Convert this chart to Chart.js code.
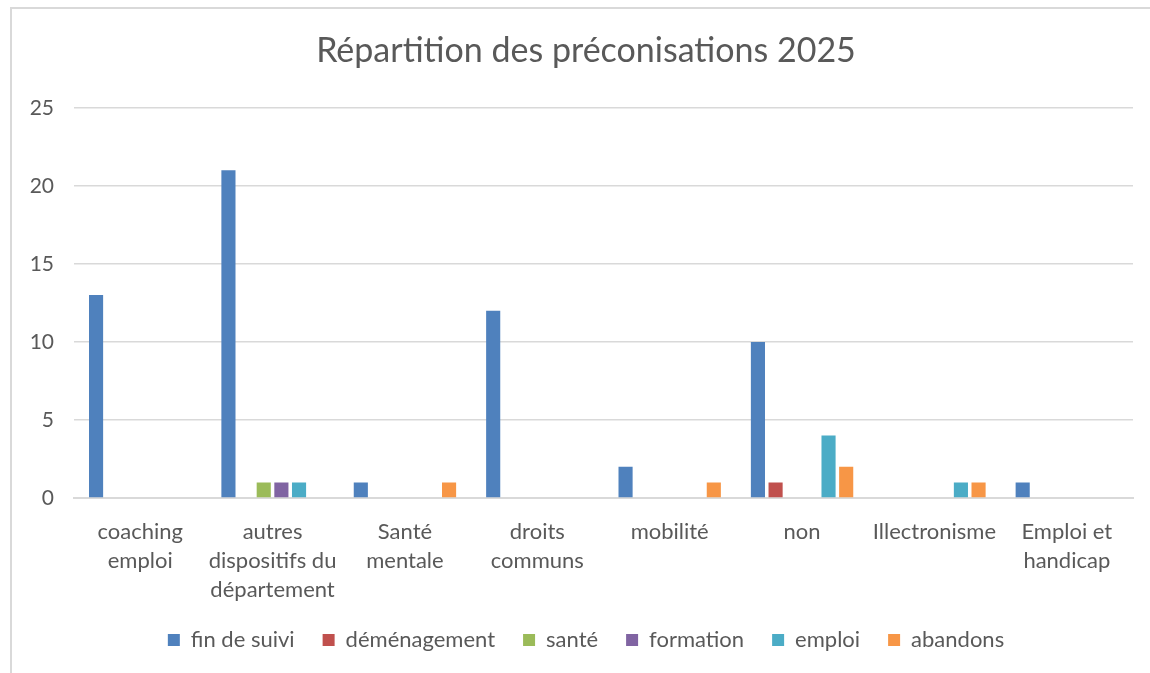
<!DOCTYPE html>
<html lang="fr">
<head>
    <meta charset="UTF-8"/>
    <title>Répartition des préconisations 2025</title>
    <script src="https://cdn.jsdelivr.net/npm/chart.js"></script>
    <style>
        html, body { margin: 0; padding: 0; background: #fff; overflow: hidden; }
        .cadre {
            position: absolute; left: 10px; top: 7px;
            width: 1200px; height: 700px;
            border: 2px solid #d9d9d9;
        }
        /* le canevas déborde un peu à droite pour centrer titre et légende comme dans Excel */
        #graphique { position: absolute; left: 0; top: 0; }
    </style>
</head>
<body>
    <div class="cadre"></div>
    <canvas id="graphique" width="1172" height="673"></canvas>
    <script>
        // Catégories (axe X)
        const categories = [
            ['coaching', 'emploi'],
            ['autres', 'dispositifs du', 'département'],
            ['Santé', 'mentale'],
            ['droits', 'communs'],
            ['mobilité'],
            ['non'],
            ['Illectronisme'],
            ['Emploi et', 'handicap']
        ];

        // Séries
        const finDeSuivi   = [13, 21, 1, 12, 2, 10, 0, 1];
        const demenagement = [0, 0, 0, 0, 0, 1, 0, 0];
        const sante        = [0, 1, 0, 0, 0, 0, 0, 0];
        const formation    = [0, 1, 0, 0, 0, 0, 0, 0];
        const emploi       = [0, 1, 0, 0, 0, 4, 1, 0];
        const abandons     = [0, 0, 1, 0, 1, 2, 1, 0];

        const yTicks = [0, 5, 10, 15, 20, 25];

        const gris = '#595959';
        const police = 'Lato, "Open Sans", sans-serif';

        const ctx = document.getElementById('graphique').getContext('2d');
        new Chart(ctx, {
            type: 'bar',
            data: {
                labels: categories,
                datasets: [
                    { label: 'fin de suivi', data: finDeSuivi, backgroundColor: '#4f81bd' },
                    { label: 'déménagement', data: demenagement, backgroundColor: '#c0504d' },
                    { label: 'santé', data: sante, backgroundColor: '#9bbb59' },
                    { label: 'formation', data: formation, backgroundColor: '#8064a2' },
                    { label: 'emploi', data: emploi, backgroundColor: '#4bacc6' },
                    { label: 'abandons', data: abandons, backgroundColor: '#f79646' }
                ]
            },
            options: {
                responsive: false,
                animation: false,
                datasets: { bar: { categoryPercentage: 0.8, barPercentage: 0.8 } },
                layout: { padding: { left: 0, right: 0, top: 0, bottom: 12 } },
                plugins: {
                    title: {
                        display: true,
                        text: 'Répartition des préconisations 2025',
                        color: gris,
                        font: { family: police, size: 34, weight: 'normal' },
                        padding: { top: 31, bottom: 36 }
                    },
                    legend: {
                        position: 'bottom',
                        labels: {
                            color: gris,
                            font: { family: police, size: 22 },
                            boxWidth: 12,
                            boxHeight: 12,
                            padding: 28
                        }
                    },
                    tooltip: { enabled: false }
                },
                scales: {
                    x: {
                        grid: { display: false },
                        border: { color: '#d9d9d9', width: 2 },
                        ticks: {
                            color: gris,
                            maxRotation: 0,
                            autoSkip: false,
                            padding: 11,
                            font: { family: police, size: 22, lineHeight: 1.32 }
                        },
                        afterFit: (scale) => { scale.height = 103; }
                    },
                    y: {
                        min: 0,
                        max: 25,
                        afterBuildTicks: (scale) => { scale.ticks = yTicks.map(v => ({ value: v })); },
                        grid: { color: '#d9d9d9', lineWidth: 1.5, drawTicks: false },
                        border: { display: false },
                        ticks: {
                            color: gris,
                            padding: 20,
                            font: { family: police, size: 21 }
                        },
                        afterFit: (scale) => { scale.width = 74; }
                    },
                    // marge droite vide (aucune donnée)
                    marge: {
                        type: 'linear',
                        position: 'right',
                        grid: { display: false },
                        border: { display: false },
                        ticks: { display: false },
                        afterFit: (scale) => { scale.width = 39; }
                    }
                }
            }
        });
    </script>
</body>
</html>
